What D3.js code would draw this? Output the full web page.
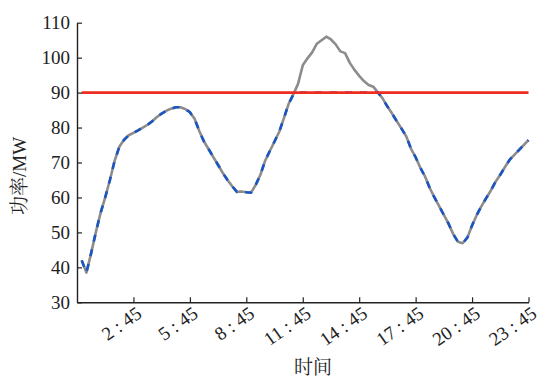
<!DOCTYPE html>
<html><head><meta charset="utf-8">
<script src="https://cdn.jsdelivr.net/npm/d3@7"></script>
<style>body{margin:0;background:#fff}svg{display:block}
svg text{font-family:"Liberation Serif","DejaVu Serif","Times New Roman","Noto Serif CJK SC","Noto Sans CJK SC",serif !important;}
</style>
</head><body>
<svg id="c" width="540" height="377"></svg>
<script>
// 15-minute samples, index 1..96
const load = [42,38.5,44,50,55.5,60,65,70.5,74.5,76.5,77.8,78.5,79.2,80,80.8,81.8,83,84,84.8,85.4,85.8,85.8,85.3,84.4,82.5,79,76,73.8,71.5,69.3,67,65,63.2,61.6,61.7,61.5,61.4,63.6,66.5,70.5,73.3,76,78.8,82.7,86.8,89.5,92.5,97.8,99.8,101.5,104,105,106,105.2,103.8,101.8,101.3,98.5,96.5,94.8,93.3,92.2,91.7,90,88.3,86,84,81.8,79.7,77.5,74,71.5,68.5,66,62.7,60,57.5,55,52.5,49.5,47.3,46.9,48.5,52,55,57.5,59.8,62,64.5,66.5,68.7,70.8,72.2,73.6,75,76.4];
const limit = 90;
const clipped = load.map(v => Math.min(v, limit));
const xTickIdx = [12,24,36,48,60,72,84,96];
const xTickLabels = ["2 : 45","5 : 45","8 : 45","11 : 45","14 : 45","17 : 45","20 : 45","23 : 45"];
const yTicks = [30,40,50,60,70,80,90,100,110];

const svg = d3.select("#c");
const L = 77, R = 528.5, T = 22.7, B = 302.3;
const x = d3.scaleLinear().domain([0,96]).range([L,R]);
const y = d3.scaleLinear().domain([30,110]).range([B,T]);

const line = d3.line().x((d,i)=>x(i+1)).y(d=>y(d));

svg.append("path").datum(load).attr("d", line)
  .attr("fill","none").attr("stroke","#8c8c8c").attr("stroke-width",2.6).attr("stroke-linejoin","round");
svg.append("path").datum(clipped).attr("d", line)
  .attr("fill","none").attr("stroke","#1a55c2").attr("stroke-width",2.6).attr("stroke-dasharray","7,8");
svg.append("line").attr("x1",x(1)).attr("x2",x(96)).attr("y1",y(limit)).attr("y2",y(limit))
  .attr("stroke","#ee2c20").attr("stroke-width",2.8);

const ya = svg.append("g").attr("transform",`translate(${L},0)`)
  .call(d3.axisLeft(y).tickValues(yTicks).tickSizeInner(-5).tickSizeOuter(0).tickPadding(7));
ya.attr("font-family",null);
ya.select(".domain").attr("stroke","#222").attr("stroke-width",1.4);
ya.selectAll(".tick line").attr("stroke","#222").attr("stroke-width",1.2);
ya.selectAll("text").attr("font-size",19).attr("fill","#222");

const xa = svg.append("g").attr("transform",`translate(0,${B})`)
  .call(d3.axisBottom(x).tickValues(xTickIdx).tickFormat((d,i)=>xTickLabels[i]).tickSizeInner(-5).tickSizeOuter(0));
xa.attr("font-family",null);
xa.select(".domain").attr("stroke","#222").attr("stroke-width",1.4);
xa.selectAll(".tick line").attr("stroke","#222").attr("stroke-width",1.2);
xa.selectAll("text").attr("font-size",19).attr("fill","#222")
  .attr("text-anchor","end").attr("dy",null).attr("y",null)
  .attr("transform","translate(9,14) rotate(-35)");

svg.append("text").attr("transform","translate(26,176) rotate(-90)")
  .attr("text-anchor","middle").attr("font-size",19).attr("fill","#222").text("功率/MW");
svg.append("text").attr("x",313).attr("y",374).attr("text-anchor","middle")
  .attr("font-size",19).attr("fill","#222").text("时间");
</script>
</body></html>
